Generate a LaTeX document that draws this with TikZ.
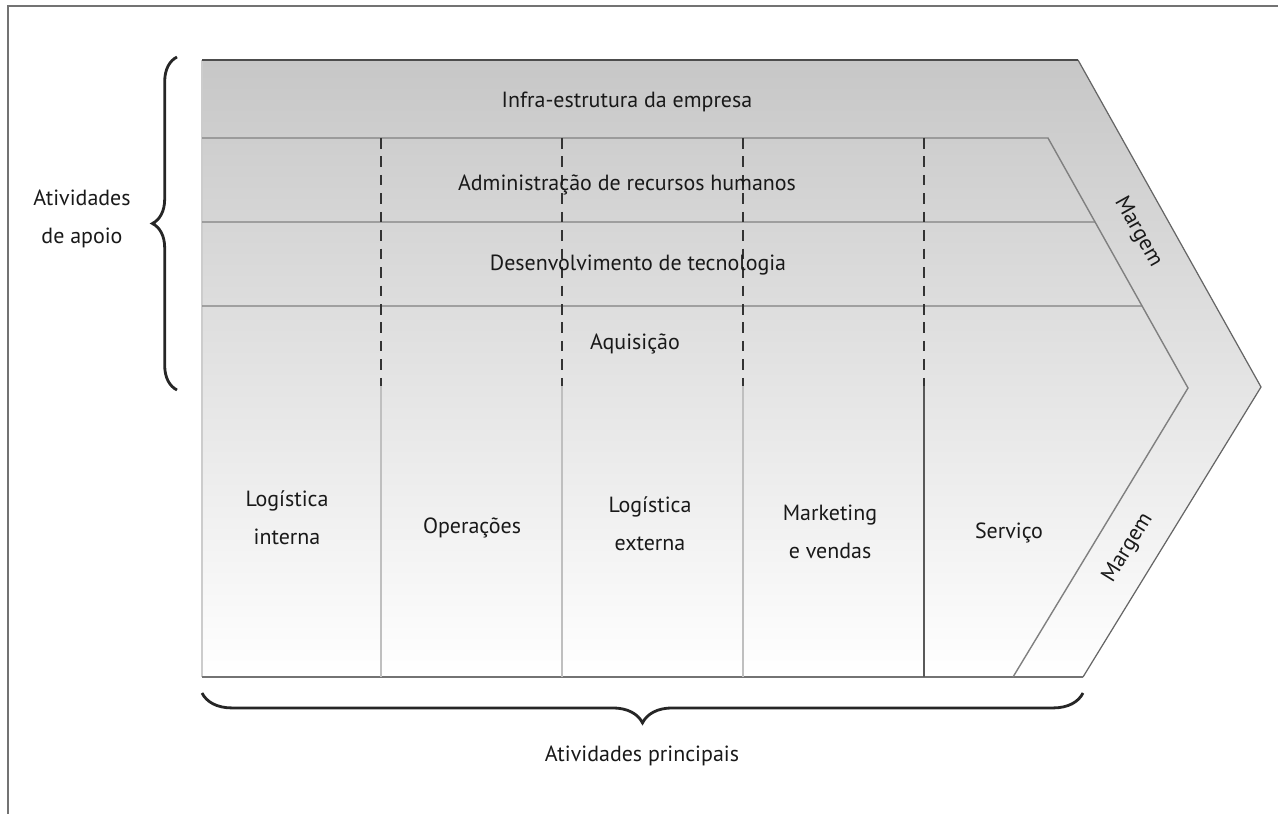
\documentclass[tikz,border=0pt]{standalone}
\usepackage{fontspec}
\setmainfont{PT Sans}
\usetikzlibrary{calc, decorations.pathreplacing}

\begin{document}
\begin{tikzpicture}[x=0.02cm, y=-0.02cm,
    rowline/.style={draw=black!50, line width=0.8pt},
    dashcol/.style={draw=black!80, line width=0.8pt, dash pattern=on 6pt off 4.5pt},
    solidcol/.style={draw=black!25, line width=0.6pt},
    lbl/.style={font=\fontsize{12.5}{21.5}\selectfont, text=black!90, align=center},
    grp/.style={decorate, decoration={brace, amplitude=#1}, draw=black!85, line width=1.6pt}
  ]
    \useasboundingbox (0,0) rectangle (1285,814);
    \draw[black!55, line width=1pt] (8,814) -- (8,6) -- (1278,6);

    % outer arrow and the inner margin line
    \coordinate (tl)   at (202,60);
    \coordinate (tr)   at (1078,60);
    \coordinate (tip)  at (1261,387);
    \coordinate (br)   at (1083,677);
    \coordinate (bl)   at (202,677);
    \coordinate (mt)   at (1048,138);
    \coordinate (mtip) at (1188,388);
    \coordinate (mb)   at (1013,677);

    \shade[top color=black!22, bottom color=white] (tl) -- (tr) -- (tip) -- (br) -- (bl) -- cycle;
    \draw[black!20, line width=0.6pt] (tl) -- (bl);
    \draw[black!60, line width=0.7pt] (tr) -- (tip) -- (br);
    \draw[black!70, line width=1.2pt] (tl) -- (tr);
    \draw[black!55, line width=1.1pt] (bl) -- (br);
    \draw[rowline] (202,138) -- (mt) -- (mtip) -- (mb);
    \draw[rowline] (202,222) -- ($(mt)!0.336!(mtip)$);
    \draw[rowline] (202,306) -- ($(mt)!0.672!(mtip)$);

    \foreach \cx in {381,562,743} {
      \draw[dashcol]  (\cx,138) -- (\cx,386);
      \draw[solidcol] (\cx,386) -- (\cx,677);
    }
    \draw[dashcol] (924,138) -- (924,386);
    \draw[draw=black!65, line width=0.8pt] (924,386) -- (924,677);

    % support activities
    \node[lbl] (infra) at (627,102) {Infra-estrutura da empresa};
    \node[lbl] (rh)    at (627,185) {Administração de recursos humanos};
    \node[lbl] (tec)   at (638,265) {Desenvolvimento de tecnologia};
    \node[lbl] (aqu)   at (635,344) {Aquisição};

    % primary activities
    \node[lbl] (login) at (287,518) {Logística\\interna};
    \node[lbl] (oper)  at (472,528) {Operações};
    \node[lbl] (logex) at (650,524) {Logística\\externa};
    \node[lbl] (mkt)   at (830,532) {Marketing\\e vendas};
    \node[lbl] (serv)  at (1009,533) {Serviço};

    \node[lbl, rotate=-60.8] (marg1) at (1138,232) {Margem};
    \node[lbl, rotate=58.5]  (marg2) at (1128,548) {Margem};

    % braces
    \draw[grp=14pt] (177,390) -- (177,57);
    \node[lbl] (apoio) at (82,219) {Atividades\\de apoio};
    \draw[grp=17pt] (1083,693) -- (202,693);
    \node[lbl] (princ) at (642,756) {Atividades principais};
  \end{tikzpicture}
\end{document}
